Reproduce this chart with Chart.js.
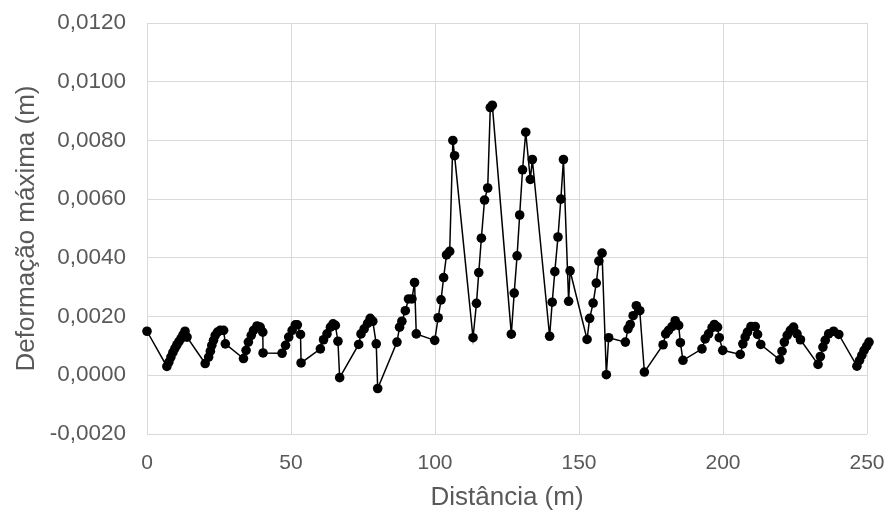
<!DOCTYPE html>
<html>
<head>
<meta charset="utf-8">
<script src="https://cdn.jsdelivr.net/npm/chart.js@4.4.1/dist/chart.umd.min.js"></script>
<style>
  html, body { margin: 0; padding: 0; background: #ffffff; }
  #wrap { width: 888px; height: 515px; }
</style>
</head>
<body>
<div id="wrap"><canvas id="c" width="888" height="515"></canvas></div>
<script>
// Distância (m)
const distancia = [
  0, 6.9, 7.6, 8.3, 9.0, 9.7, 10.4, 11.1, 11.8, 12.5, 13.2, 13.9,
  20.2, 21.4, 22.0, 22.5, 23.1, 23.7, 24.5, 25.4, 26.6, 27.2,
  33.5, 34.4, 35.2, 36.2, 37.0, 38.2, 39.3, 40.2, 40.3,
  46.9, 48.1, 49.2, 50.4, 51.5, 52.2, 53.3, 53.5,
  60.2, 61.3, 62.5, 63.7, 64.6, 65.4, 66.3, 66.9,
  73.5, 74.3, 75.4, 76.6, 77.5, 78.4, 79.6, 80.1,
  86.8, 87.7, 88.5, 89.7, 90.8, 92.0, 92.9, 93.5,
  99.9, 101.1, 102.1, 103.0, 104.0, 105.1, 106.2, 106.8,
  113.2, 114.4, 115.2, 116.1, 117.2, 118.3, 119.2, 119.9,
  126.5, 127.5, 128.5, 129.4, 130.4, 131.5, 133.1, 133.8,
  139.8, 140.7, 141.6, 142.7, 143.7, 144.6, 146.4, 146.9,
  152.8, 153.7, 154.9, 156.0, 156.9, 158.0, 159.5, 160.3,
  166.1, 167.0, 167.8, 168.8, 169.9, 171.1, 172.7,
  179.2, 180.1, 181.1, 182.3, 183.4, 184.6, 185.2, 186.1,
  192.7, 193.8, 195.0, 196.2, 197.0, 198.1, 198.7, 199.9,
  206.0, 206.9, 207.7, 208.5, 209.7, 211.2, 212.0, 213.1,
  219.7, 220.5, 221.3, 222.3, 223.4, 224.5, 225.7, 226.9,
  233.0, 233.8, 234.7, 235.5, 236.7, 238.4, 240.2,
  246.5, 247.4, 248.2, 249.0, 249.9, 250.7, 251.6, 252.4
];
// Deformação máxima (m)
const deformacao = [
  0.00150, 0.00030, 0.00045, 0.00062, 0.00078, 0.00092, 0.00104, 0.00115, 0.00125, 0.00138, 0.00150, 0.00130,
  0.00040, 0.00062, 0.00082, 0.00102, 0.00119, 0.00136, 0.00147, 0.00153, 0.00153, 0.00107,
  0.00057, 0.00085, 0.00113, 0.00136, 0.00153, 0.00168, 0.00164, 0.00147, 0.00076,
  0.00075, 0.00102, 0.00130, 0.00153, 0.00172, 0.00172, 0.00139, 0.00042,
  0.00090, 0.00121, 0.00141, 0.00164, 0.00175, 0.00170, 0.00116, -0.00008,
  0.00105, 0.00141, 0.00158, 0.00177, 0.00194, 0.00184, 0.00107, -0.00045,
  0.00113, 0.00164, 0.00184, 0.00220, 0.00260, 0.00260, 0.00316, 0.00141,
  0.00119, 0.00196, 0.00257, 0.00333, 0.00410, 0.00422, 0.00800, 0.00748,
  0.00128, 0.00245, 0.00350, 0.00467, 0.00597, 0.00638, 0.00912, 0.00920,
  0.00140, 0.00280, 0.00407, 0.00546, 0.00700, 0.00828, 0.00667, 0.00735,
  0.00133, 0.00249, 0.00353, 0.00471, 0.00600, 0.00735, 0.00252, 0.00356,
  0.00122, 0.00194, 0.00246, 0.00314, 0.00389, 0.00416, 0.00002, 0.00128,
  0.00113, 0.00158, 0.00173, 0.00203, 0.00237, 0.00220, 0.00011,
  0.00104, 0.00141, 0.00153, 0.00166, 0.00186, 0.00170, 0.00111, 0.00051,
  0.00090, 0.00124, 0.00141, 0.00162, 0.00173, 0.00164, 0.00128, 0.00085,
  0.00071, 0.00107, 0.00130, 0.00147, 0.00166, 0.00166, 0.00139, 0.00105,
  0.00053, 0.00082, 0.00113, 0.00136, 0.00153, 0.00164, 0.00141, 0.00121,
  0.00037, 0.00064, 0.00096, 0.00119, 0.00141, 0.00150, 0.00139,
  0.00031, 0.00051, 0.00068, 0.00085, 0.00099, 0.00113, 0.00124, 0.00132
];
const xTicks = [0, 50, 100, 150, 200, 250];
const yTicks = [-0.002, 0, 0.002, 0.004, 0.006, 0.008, 0.010, 0.012];
const xTitle = 'Distância (m)';
const yTitle = 'Deformação máxima (m)';

const points = distancia.map((x, i) => ({ x: x, y: deformacao[i] }));
const FONT = "'Liberation Sans', Arial, sans-serif";
const GREY = '#595959';

new Chart(document.getElementById('c'), {
  type: 'scatter',
  data: {
    datasets: [{
      data: points,
      showLine: true,
      borderColor: '#000000',
      backgroundColor: '#000000',
      borderWidth: 1.5,
      pointRadius: 4.8,
      pointBorderWidth: 0,
      pointBackgroundColor: '#000000',
      clip: false
    }]
  },
  options: {
    responsive: false,
    animation: false,
    layout: { padding: { left: 0, right: 21, top: 23, bottom: 0 } },
    plugins: { legend: { display: false }, tooltip: { enabled: false } },
    scales: {
      x: {
        type: 'linear',
        min: 0, max: 250,
        afterBuildTicks: (s) => { s.ticks = xTicks.map(v => ({ value: v })); },
        afterFit: (s) => { s.height = 81; },
        grid: { color: '#d9d9d9', lineWidth: 1, drawTicks: true, tickLength: 17, tickColor: 'rgba(0,0,0,0)' },
        border: { display: false },
        ticks: { color: GREY, font: { family: FONT, size: 21 }, padding: 0, maxRotation: 0 },
        title: { display: true, text: xTitle, color: GREY, font: { family: FONT, size: 26 }, padding: { top: 0, bottom: 2 } }
      },
      y: {
        type: 'linear',
        min: -0.002, max: 0.012,
        afterBuildTicks: (s) => { s.ticks = yTicks.map(v => ({ value: v })); },
        afterFit: (s) => { s.width = 147; },
        grid: { color: '#d9d9d9', lineWidth: 1, drawTicks: true, tickLength: 21, tickColor: 'rgba(0,0,0,0)' },
        border: { display: false },
        ticks: {
          color: GREY, font: { family: FONT, size: 22.5 }, padding: 0,
          callback: (v) => { const r = Math.round(v * 1e4) / 1e4; return (r === 0 ? 0 : r).toFixed(4).replace('.', ','); }
        },
        title: { display: true, text: yTitle, color: GREY, font: { family: FONT, size: 26 }, padding: { top: 11, bottom: 0 } }
      }
    }
  }
});
</script>
</body>
</html>
